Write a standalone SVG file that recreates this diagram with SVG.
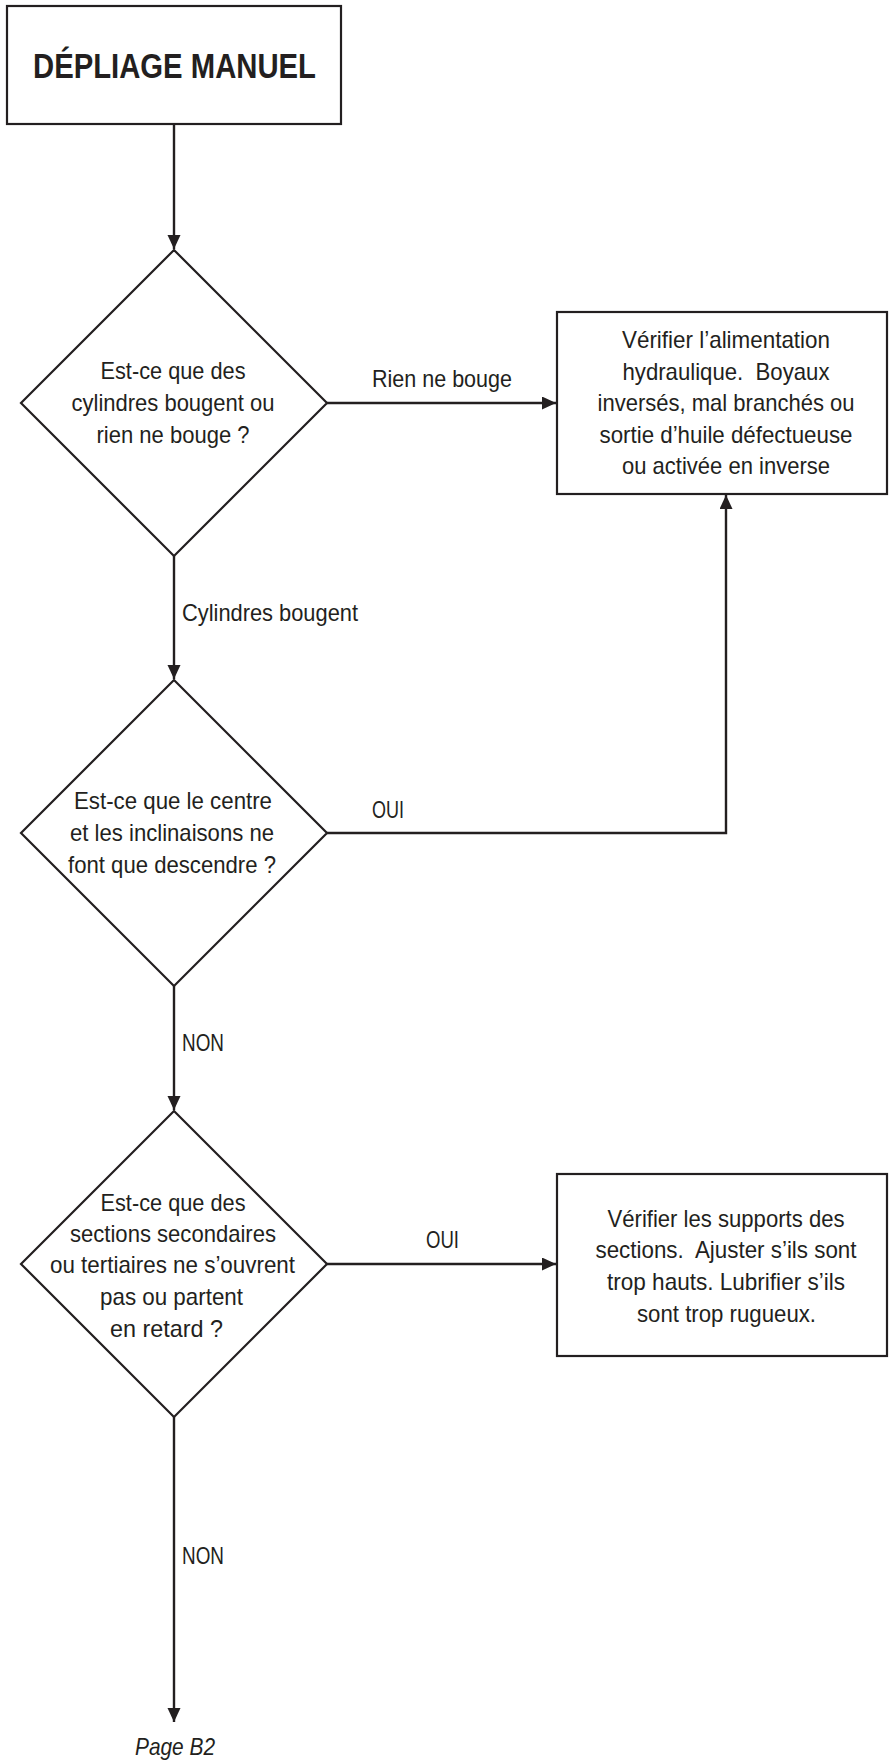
<svg xmlns="http://www.w3.org/2000/svg" width="889" height="1760" viewBox="0 0 889 1760">
  <style>
    .shape { fill: #ffffff; stroke: #231f20; stroke-width: 2.2; }
    .conn { fill: none; stroke: #231f20; stroke-width: 2.4; }
    text { font-family: "Liberation Sans Narrow", "Liberation Sans", Arial, sans-serif; fill: #231f20; font-size: 24px; }
    .mid { text-anchor: middle; }
    .title { font-weight: bold; font-size: 35px; }
    .ital { font-style: italic; }
  </style>
  <defs>
    <marker id="arrow" markerUnits="userSpaceOnUse" markerWidth="15" markerHeight="14" refX="14" refY="6.5" orient="auto">
      <path d="M0,0 L14,6.5 L0,13 Z" fill="#231f20"/>
    </marker>
  </defs>

  <rect width="889" height="1760" fill="#ffffff"/>

  <!-- connectors -->
  <g id="connectors">
    <path class="conn" d="M174,124 L174,249" marker-end="url(#arrow)"/>
    <path class="conn" d="M327,403 L556,403" marker-end="url(#arrow)"/>
    <path class="conn" d="M174,556 L174,679" marker-end="url(#arrow)"/>
    <path class="conn" d="M327,833 L726,833 L726,495" marker-end="url(#arrow)"/>
    <path class="conn" d="M174,986 L174,1110" marker-end="url(#arrow)"/>
    <path class="conn" d="M327,1264 L556,1264" marker-end="url(#arrow)"/>
    <path class="conn" d="M174,1417 L174,1722" marker-end="url(#arrow)"/>
    <text x="372" y="387" textLength="140" lengthAdjust="spacingAndGlyphs">Rien ne bouge</text>
    <text x="182" y="621" textLength="176" lengthAdjust="spacingAndGlyphs">Cylindres bougent</text>
    <text x="372" y="818" textLength="32" lengthAdjust="spacingAndGlyphs">OUI</text>
    <text x="182" y="1051" textLength="42" lengthAdjust="spacingAndGlyphs">NON</text>
    <text x="426" y="1248" textLength="33" lengthAdjust="spacingAndGlyphs">OUI</text>
    <text x="182" y="1564" textLength="42" lengthAdjust="spacingAndGlyphs">NON</text>
  </g>

  <!-- start -->
  <g id="start">
    <rect class="shape" x="7" y="6" width="334" height="118"/>
    <text class="mid title" x="174.5" y="78" textLength="283" lengthAdjust="spacingAndGlyphs">DÉPLIAGE MANUEL</text>
  </g>

  <!-- decision: movement -->
  <g id="q-movement">
    <polygon class="shape" points="174,250 327,403 174,556 21,403"/>
    <text class="mid" x="173" y="379" textLength="145" lengthAdjust="spacingAndGlyphs">Est-ce que des</text>
    <text class="mid" x="173" y="411" textLength="203" lengthAdjust="spacingAndGlyphs">cylindres bougent ou</text>
    <text class="mid" x="173" y="443" textLength="153" lengthAdjust="spacingAndGlyphs">rien ne bouge ?</text>
  </g>

  <!-- action: hydraulic supply -->
  <g id="check-hydraulic">
    <rect class="shape" x="557" y="312" width="330" height="182"/>
    <text class="mid" x="726" y="348" textLength="208" lengthAdjust="spacingAndGlyphs">Vérifier l’alimentation</text>
    <text class="mid" x="726" y="380" textLength="207" lengthAdjust="spacingAndGlyphs" xml:space="preserve">hydraulique.  Boyaux</text>
    <text class="mid" x="726" y="411" textLength="257" lengthAdjust="spacingAndGlyphs">inversés, mal branchés ou</text>
    <text class="mid" x="726" y="443" textLength="253" lengthAdjust="spacingAndGlyphs">sortie d’huile défectueuse</text>
    <text class="mid" x="726" y="474" textLength="208" lengthAdjust="spacingAndGlyphs">ou activée en inverse</text>
  </g>

  <!-- decision: only lowering -->
  <g id="q-lowering">
    <polygon class="shape" points="174,680 327,833 174,986 21,833"/>
    <text class="mid" x="173" y="809" textLength="198" lengthAdjust="spacingAndGlyphs">Est-ce que le centre</text>
    <text class="mid" x="172" y="841" textLength="204" lengthAdjust="spacingAndGlyphs">et les inclinaisons ne</text>
    <text class="mid" x="172" y="873" textLength="208" lengthAdjust="spacingAndGlyphs">font que descendre ?</text>
  </g>

  <!-- decision: sections -->
  <g id="q-sections">
    <polygon class="shape" points="174,1111 327,1264 174,1417 21,1264"/>
    <text class="mid" x="173" y="1211" textLength="145" lengthAdjust="spacingAndGlyphs">Est-ce que des</text>
    <text class="mid" x="173" y="1242" textLength="206" lengthAdjust="spacingAndGlyphs">sections secondaires</text>
    <text class="mid" x="172.5" y="1273" textLength="245" lengthAdjust="spacingAndGlyphs">ou tertiaires ne s’ouvrent</text>
    <text class="mid" x="171.5" y="1305" textLength="143" lengthAdjust="spacingAndGlyphs">pas ou partent</text>
    <text class="mid" x="166.5" y="1337" textLength="113" lengthAdjust="spacingAndGlyphs">en retard ?</text>
  </g>

  <!-- action: section supports -->
  <g id="check-supports">
    <rect class="shape" x="557" y="1174" width="330" height="182"/>
    <text class="mid" x="726" y="1227" textLength="237" lengthAdjust="spacingAndGlyphs">Vérifier les supports des</text>
    <text class="mid" x="726" y="1258" textLength="261" lengthAdjust="spacingAndGlyphs" xml:space="preserve">sections.  Ajuster s’ils sont</text>
    <text class="mid" x="726" y="1290" textLength="238" lengthAdjust="spacingAndGlyphs">trop hauts. Lubrifier s’ils</text>
    <text class="mid" x="726.5" y="1322" textLength="179" lengthAdjust="spacingAndGlyphs">sont trop rugueux.</text>
  </g>

  <!-- continuation -->
  <g id="next-page">
    <text class="mid ital" x="175" y="1755" textLength="80" lengthAdjust="spacingAndGlyphs">Page B2</text>
  </g>
</svg>
